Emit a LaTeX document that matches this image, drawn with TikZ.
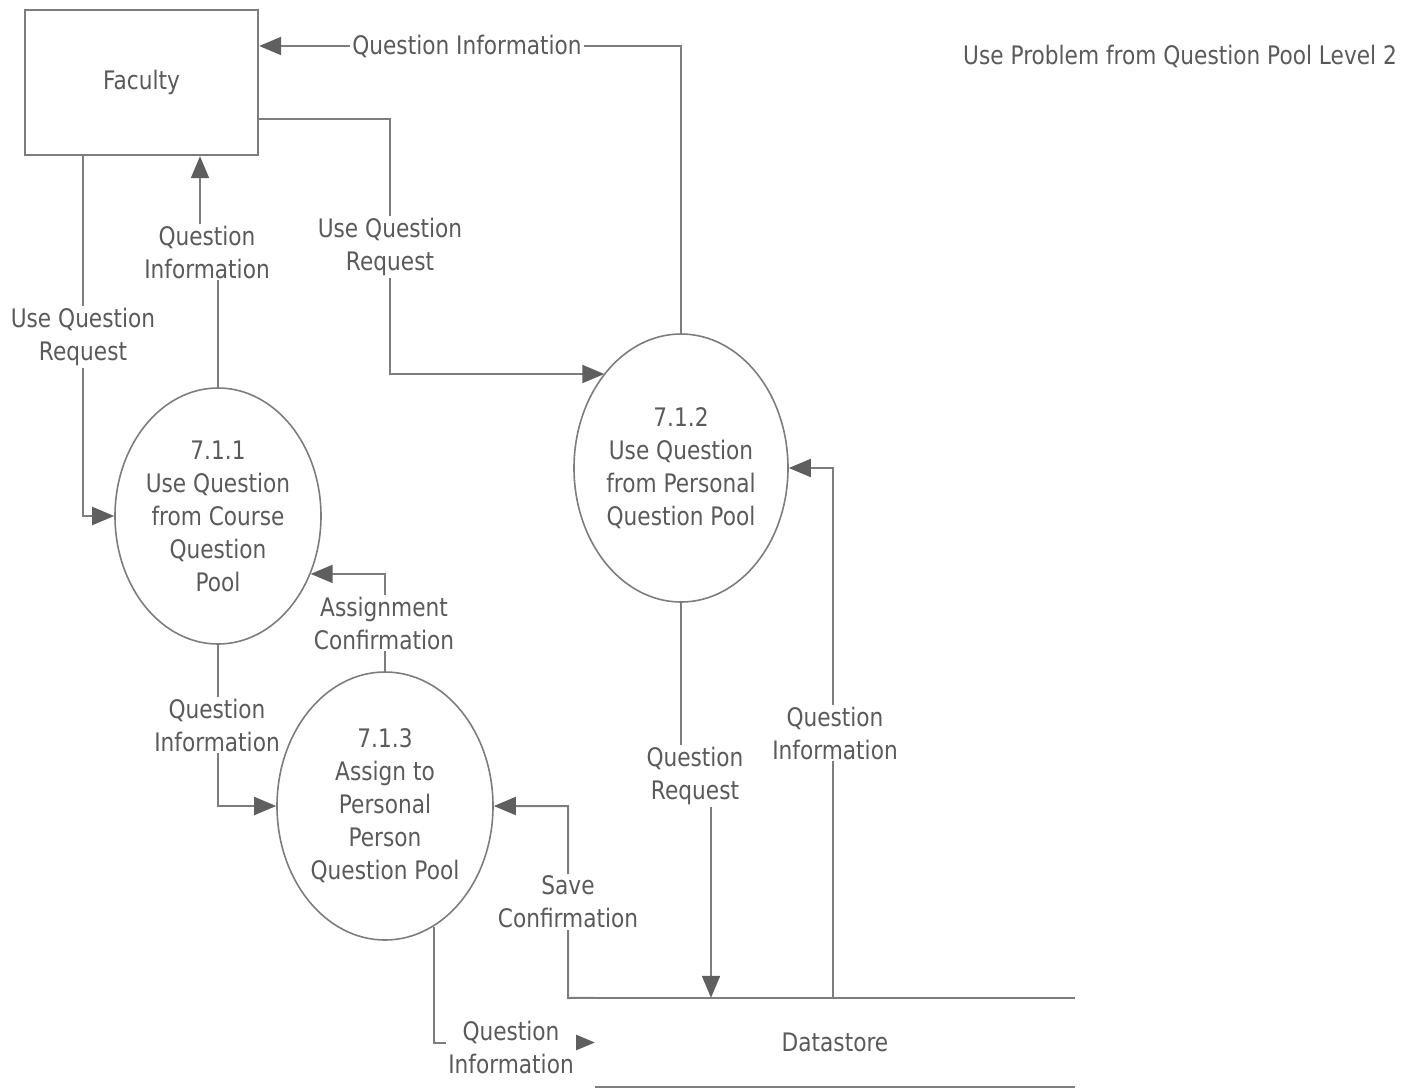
\documentclass[tikz,border=0pt]{standalone}
\usepackage{fontspec}
\setmainfont{DejaVu Sans}[FakeStretch=0.85]
\usepackage{tikz}
\usetikzlibrary{shapes.geometric,arrows.meta,positioning,calc}
\definecolor{linegray}{RGB}{125,125,125}
\definecolor{tipgray}{RGB}{95,95,95}
\definecolor{textgray}{RGB}{90,90,90}

\begin{document}
\begin{tikzpicture}[
    x=1pt, y=-1pt,
    every node/.style={font=\fontsize{25.5}{33}\selectfont, text=textgray},
    entity/.style={rectangle, draw=linegray, line width=2.4pt, minimum width=233pt, minimum height=145pt, inner sep=0pt},
    process/.style={ellipse, draw=linegray, line width=1.6pt, inner sep=0pt, align=center},
    store/.style={rectangle, minimum width=480pt, minimum height=89pt, inner sep=0pt},
    lbl/.style={fill=white, align=center, inner sep=2pt},
    line/.style={draw=linegray, line width=2pt, -{Triangle[length=22pt, width=18pt, color=tipgray, fill=tipgray]}},
    dsline/.style={draw=linegray, line width=2pt}
]
    \useasboundingbox (0,0) rectangle (1416,1090);

    % Nodes
    \node [entity] (faculty) at (141.5,82.5) {Faculty};
    \node (title) at (1180,56) {Use Problem from Question Pool Level 2};
    \node [process, minimum width=206pt, minimum height=256pt] (p711) at (218,516) {7.1.1\\Use Question\\from Course\\Question\\Pool};
    \node [process, minimum width=214pt, minimum height=268pt] (p712) at (681,468) {7.1.2\\Use Question\\from Personal\\Question Pool};
    \node [process, minimum width=216pt, minimum height=268pt] (p713) at (385,806) {7.1.3\\Assign to\\Personal\\Person\\Question Pool};
    \node [store] (ds) at (835,1042.5) {Datastore};

    % Datastore
    \draw [dsline] (ds.north west) -- (ds.north east);
    \draw [dsline] (ds.south west) -- (ds.south east);

    % Connections
    \draw [line] (p712.north) |- (faculty.east |- 0,46);
    \draw [line] (faculty.east |- 0,119) -| (390,374) -- (p712.129 |- 390,374);
    \draw [line] (faculty.south -| 83,0) |- (p711.west);
    \draw [line] (p711.north) -- (218,252) -- (200,252) -- (faculty.south -| 200,0);
    \draw [line] (p713.north) |- (p711.-32);
    \draw [line] (p711.south) |- (p713.west);
    \draw [line] (ds.north west) -- (568,998) |- (p713.east);
    \draw [line] (p712.south) -- (681,776) -- (711,776) -- (ds.north -| 711,0);
    \draw [line] (ds.north -| 833,0) |- (p712.east);
    \draw [line] (p713.-68) |- (ds.west);

    % Labels
    \node [lbl] (lqi1) at (467,46) {Question Information};
    \node [lbl] (luqr1) at (390,247) {Use Question\\Request};
    \node [lbl] (luqr2) at (83,337) {Use Question\\Request};
    \node [lbl] (lqi2) at (207,252) {Question\\Information};
    \node [lbl] (lac) at (384,623) {Assignment\\Confirmation};
    \node [lbl] (lqi3) at (217,725) {Question\\Information};
    \node [lbl] (lsc) at (568,902) {Save\\Confirmation};
    \node [lbl] (lqr) at (695,776) {Question\\Request};
    \node [lbl] (lqi4) at (835,733) {Question\\Information};
    \node [lbl] (lqi5) at (511,1047) {Question\\Information};

\end{tikzpicture}
\end{document}
